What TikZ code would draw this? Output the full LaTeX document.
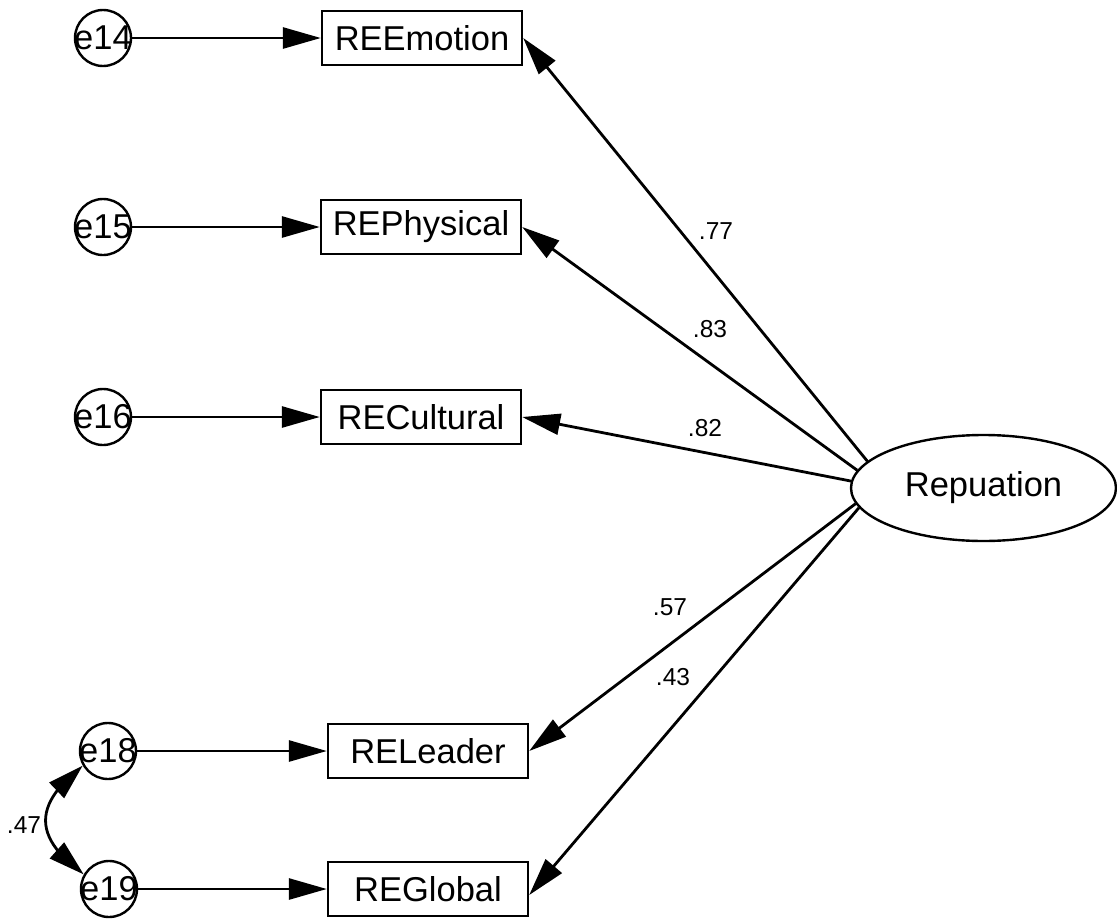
\documentclass[tikz,border=0pt]{standalone}
\usepackage{fontspec}
\setmainfont{Liberation Sans}
\usetikzlibrary{arrows.meta,shapes.geometric,bending}

\begin{document}
\begin{tikzpicture}[x=1pt,y=-1pt,
  every node/.style={font=\fontsize{34.5}{40}\selectfont},
  errvar/.style={circle,draw,line width=2.4pt,minimum size=56pt,inner sep=0pt},
  indicator/.style={rectangle,draw,line width=2.4pt,minimum width=200pt,minimum height=54pt,inner sep=0pt},
  latent/.style={ellipse,draw,line width=2.4pt,minimum width=265pt,minimum height=106pt,inner sep=0pt},
  regr/.style={line width=2.8pt,-{Triangle[length=38pt,width=21pt]}},
  covar/.style={line width=2.8pt,{Triangle[length=36pt,width=21pt]}-{Triangle[length=36pt,width=21pt]}},
  coef/.style={font=\fontsize{24.5}{28}\selectfont,inner sep=0pt}]
\useasboundingbox (0,0) rectangle (1117,921);

% latent factor
\node[latent] (rep) at (983.5,488) {Repuation};

% observed indicators
\node[indicator] (emo)  at (422,38)  {REEmotion};
\node[indicator] (phy)  at (421,227) {REPhysical};
\node[indicator] (cul)  at (421,417) {RECultural};
\node[indicator] (lead) at (428,751) {RELeader};
\node[indicator] (glob) at (428,889) {REGlobal};

% error terms
\node[errvar] (e14) at (103,38)  {\makebox[0pt]{e14}};
\node[errvar] (e15) at (103,227) {\makebox[0pt]{e15}};
\node[errvar] (e16) at (103,417) {\makebox[0pt]{e16}};
\node[errvar] (e18) at (108,751) {\makebox[0pt]{e18}};
\node[errvar] (e19) at (109,889) {\makebox[0pt]{e19}};

% error paths
\draw[regr] (e14.east) -- (emo.west);
\draw[regr] (e15.east) -- (phy.west);
\draw[regr] (e16.east) -- (cul.west);
\draw[regr] (e18.east) -- (lead.west);
\draw[regr] (e19.east) -- (glob.west);

% loadings
\draw[regr] (rep.167)   -- (emo.east);
\draw[regr] (rep.172)   -- (phy.east);
\draw[regr] (rep.177)   -- (cul.east);
\draw[regr] (rep.187.5) -- (lead.east);
\draw[regr] (rep.189)   -- ([yshift=-6pt]glob.east);

% error covariance
\draw[covar] (e18.210) .. controls (33,805) and (33,837) .. (e19.150);

% coefficients
\node[coef] (c77) at (716,231) {.77};
\node[coef] (c83) at (710,329) {.83};
\node[coef] (c82) at (705,428) {.82};
\node[coef] (c57) at (670,607) {.57};
\node[coef] (c43) at (673,677) {.43};
\node[coef] (c47) at (24,825)  {.47};
\end{tikzpicture}
\end{document}
